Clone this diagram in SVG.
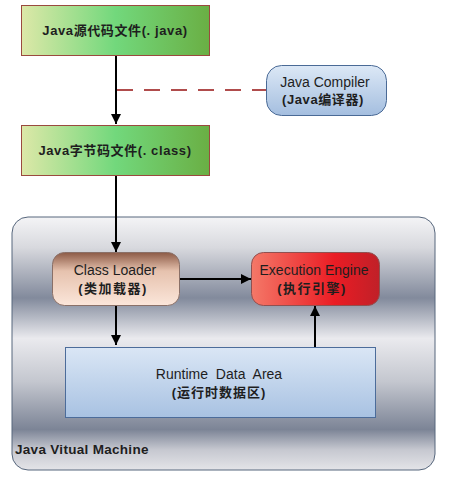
<svg xmlns="http://www.w3.org/2000/svg" width="451" height="487" viewBox="0 0 451 487">
<defs>
<linearGradient id="gGreen" x1="0" y1="0" x2="1" y2="0">
<stop offset="0" stop-color="#dde8a8"/>
<stop offset="0.5" stop-color="#72d87c"/>
<stop offset="1" stop-color="#6aaf44"/>
</linearGradient>
<linearGradient id="gBlue" x1="0" y1="0" x2="0" y2="1">
<stop offset="0" stop-color="#dce8f6"/>
<stop offset="1" stop-color="#a4bedf"/>
</linearGradient>
<linearGradient id="gJvm" x1="0" y1="0" x2="0" y2="1">
<stop offset="0" stop-color="#f4f4f6"/>
<stop offset="0.12" stop-color="#d8d9de"/>
<stop offset="0.32" stop-color="#828a9c"/>
<stop offset="0.48" stop-color="#eaeaee"/>
<stop offset="0.65" stop-color="#c4c7cf"/>
<stop offset="0.84" stop-color="#7c8496"/>
<stop offset="0.92" stop-color="#c6c8d0"/>
<stop offset="1" stop-color="#e4e4e8"/>
</linearGradient>
<linearGradient id="gLoader" x1="0" y1="0" x2="0" y2="1">
<stop offset="0" stop-color="#8c5a46"/>
<stop offset="0.35" stop-color="#e6c2ae"/>
<stop offset="1" stop-color="#fbe6da"/>
</linearGradient>
<linearGradient id="gEngine" x1="0" y1="0" x2="1" y2="0">
<stop offset="0" stop-color="#f47868"/>
<stop offset="0.65" stop-color="#ea1c24"/>
<stop offset="1" stop-color="#c02028"/>
</linearGradient>
<linearGradient id="gRda" x1="0" y1="0" x2="0" y2="1">
<stop offset="0" stop-color="#dae6f5"/>
<stop offset="1" stop-color="#a8c2e2"/>
</linearGradient>
<marker id="arr" viewBox="0 0 10 10" refX="10" refY="5" markerWidth="10" markerHeight="10" markerUnits="userSpaceOnUse" orient="auto">
<path d="M0,0 L10,5 L0,10 z" fill="#000"/>
</marker>
</defs>
<style>
text{font-family:"Liberation Sans","Noto Sans CJK SC",sans-serif;font-size:14px;fill:#1e1e1e;text-anchor:middle}
.b{font-weight:bold;font-size:13px;letter-spacing:1.5px}
.t{font-weight:bold;font-size:13px;letter-spacing:0.6px}
.ln{stroke:#000;stroke-width:2;fill:none}
</style>
<rect width="451" height="487" fill="#fff"/>
<g id="jvm">
<rect x="12" y="217" width="423" height="253" rx="16" fill="url(#gJvm)" stroke="#56667c" stroke-width="1"/>
<text x="15" y="454" style="text-anchor:start;font-weight:bold;font-size:13.5px;letter-spacing:0.3px">Java Vitual Machine</text>
</g>
<g id="connectors">
<line class="ln" x1="116" y1="55" x2="116" y2="124" marker-end="url(#arr)"/>
<line x1="117" y1="90" x2="266" y2="90" stroke="#b04c4c" stroke-width="2" stroke-dasharray="16,11"/>
<line class="ln" x1="116" y1="175" x2="116" y2="252" marker-end="url(#arr)"/>
<line class="ln" x1="179" y1="279" x2="251" y2="279" marker-end="url(#arr)"/>
<line class="ln" x1="116" y1="305" x2="116" y2="345" marker-end="url(#arr)"/>
<line class="ln" x1="315" y1="347" x2="315" y2="306" marker-end="url(#arr)"/>
</g>
<g id="source">
<rect x="21.5" y="5.5" width="188" height="50" fill="url(#gGreen)" stroke="#9a4a3e" stroke-width="1"/>
<text class="t" x="115" y="35">Java源代码文件(. java)</text>
</g>
<g id="compiler">
<rect x="266.5" y="65.5" width="120" height="50" rx="15" fill="url(#gBlue)" stroke="#4a6a96" stroke-width="1"/>
<text x="325" y="87">Java Compiler</text>
<text class="t" x="323" y="104">(Java编译器)</text>
</g>
<g id="bytecode">
<rect x="21.5" y="125.5" width="188" height="50" fill="url(#gGreen)" stroke="#9a4a3e" stroke-width="1"/>
<text class="t" x="115" y="155">Java字节码文件(. class)</text>
</g>
<g id="loader">
<rect x="52.5" y="252.5" width="127" height="53" rx="12" fill="url(#gLoader)" stroke="#8a7068" stroke-width="1"/>
<text x="115" y="275">Class Loader</text>
<text class="b" x="113" y="293">(类加载器)</text>
</g>
<g id="engine">
<rect x="251.5" y="252.5" width="128" height="53" rx="12" fill="url(#gEngine)" stroke="#905050" stroke-width="1"/>
<text x="314" y="275">Execution Engine</text>
<text class="b" x="312" y="293">(执行引擎)</text>
</g>
<g id="rda">
<rect x="65.5" y="347.5" width="310" height="70" fill="url(#gRda)" stroke="#4c6c9a" stroke-width="1"/>
<text x="219" y="379" style="word-spacing:4px">Runtime Data Area</text>
<text class="b" x="219" y="397" style="letter-spacing:1px">(运行时数据区)</text>
</g>
</svg>
